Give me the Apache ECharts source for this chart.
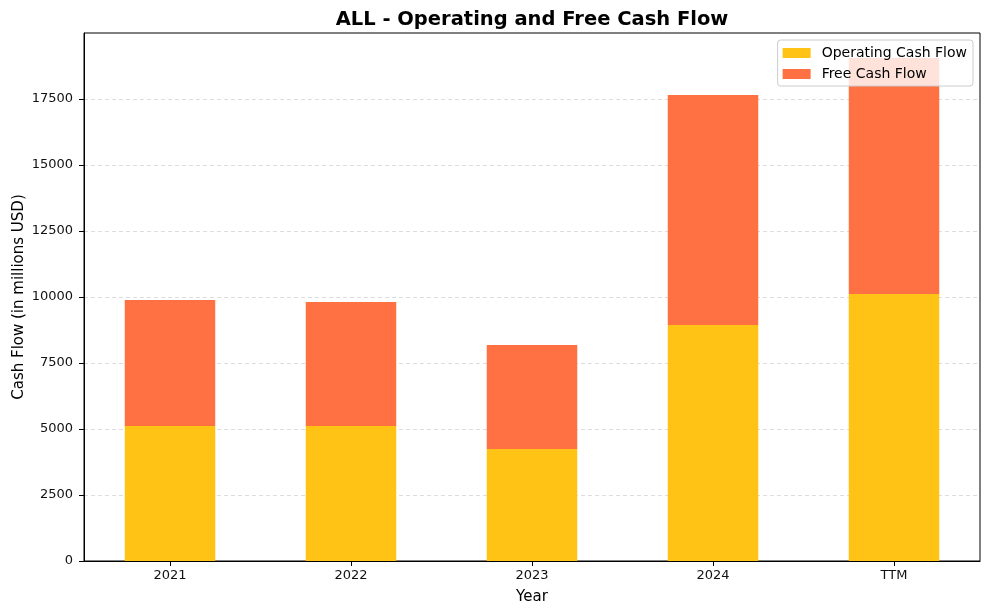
<!DOCTYPE html>
<html>
<head>
<meta charset="utf-8">
<script src="https://cdn.jsdelivr.net/npm/echarts@6/dist/echarts.min.js"></script>
<style>html,body{margin:0;padding:0;background:#fff}#c{width:989px;height:615px}</style>
</head>
<body>
<div id="c"></div>
<script>
const categories = ['2021', '2022', '2023', '2024', 'TTM'];
const operatingCashFlow = [5114, 5114, 4242, 8939, 10114];
const freeCashFlow = [4772, 4697, 3940, 8713, 8939];
const yTicks = [0, 2500, 5000, 7500, 10000, 12500, 15000, 17500];

const font = 'DejaVu Sans';
const xIdx = categories.map((c, i) => i);
const chart = echarts.init(document.getElementById('c'), null, {renderer: 'canvas'});
chart.setOption({
  animation: false,
  backgroundColor: '#fff',
  textStyle: {fontFamily: font},
  title: {
    text: 'ALL - Operating and Free Cash Flow',
    left: 527, top: 5, textAlign: 'center',
    textStyle: {fontFamily: font, fontSize: 19.5, fontWeight: 'bold', color: '#000'}
  },
  legend: {
    orient: 'vertical', right: 16, top: 40,
    icon: 'rect',
    itemWidth: 28, itemHeight: 10, itemGap: 7,
    padding: [6, 6, 5, 5],
    backgroundColor: 'rgba(255,255,255,0.8)',
    borderColor: '#ccc', borderWidth: 1, borderRadius: 3,
    textStyle: {fontFamily: font, fontSize: 14, color: '#000', padding: [0, 0, 0, 6]},
    itemStyle: {borderWidth: 0},
    data: ['Operating Cash Flow', 'Free Cash Flow']
  },
  grid: [
    {left: 84, right: 9, top: 33, bottom: 54, outerBoundsMode: 'none', containLabel: false,
      show: true, borderColor: '#000', borderWidth: 1, backgroundColor: 'transparent'},
    {left: 79.5, right: 4.5, top: 33, bottom: 54, outerBoundsMode: 'none', containLabel: false,
      show: false}
  ],
  xAxis: [
    {
      gridIndex: 0, type: 'value', min: -0.475, max: 4.475,
      name: 'Year', nameLocation: 'middle', nameGap: 29, nameMoveOverlap: false,
      nameTextStyle: {fontFamily: font, fontSize: 15, color: '#000'},
      axisLine: {show: true, onZero: false, lineStyle: {color: '#000', width: 1}},
      axisTick: {show: true, length: 5, lineStyle: {color: '#000'}, customValues: xIdx},
      axisLabel: {fontFamily: font, fontSize: 13, color: '#111', margin: 8,
        customValues: xIdx,
        formatter: v => categories[Math.round(v)] || ''},
      splitLine: {show: false}
    },
    {
      gridIndex: 1, type: 'category', data: categories, boundaryGap: true,
      axisLine: {show: false}, axisTick: {show: false}, axisLabel: {show: false},
      splitLine: {show: false}
    }
  ],
  yAxis: [
    {
      gridIndex: 0, type: 'value', min: 0, max: 20000, interval: 2500,
      name: 'Cash Flow (in millions USD)', nameLocation: 'middle', nameGap: 57, nameMoveOverlap: false,
      nameTextStyle: {fontFamily: font, fontSize: 15, color: '#000'},
      axisLine: {show: true, onZero: false, lineStyle: {color: '#000', width: 1}},
      axisTick: {show: true, length: 5, lineStyle: {color: '#000'}, customValues: yTicks},
      axisLabel: {
        fontFamily: font, fontSize: 13, color: '#111', margin: 11,
        customValues: yTicks,
        formatter: v => yTicks.includes(v) ? String(v) : ''
      },
      splitLine: {show: true, lineStyle: {color: '#ddd', type: [4, 3], width: 1}}
    },
    {
      gridIndex: 1, type: 'value', min: 0, max: 20000,
      axisLine: {show: false}, axisTick: {show: false}, axisLabel: {show: false},
      splitLine: {show: false}
    }
  ],
  series: [
    {
      name: 'Operating Cash Flow', type: 'bar', stack: 'cf', data: operatingCashFlow,
      xAxisIndex: 1, yAxisIndex: 1,
      barWidth: '50%', itemStyle: {color: '#FEC314'}
    },
    {
      name: 'Free Cash Flow', type: 'bar', stack: 'cf', data: freeCashFlow,
      xAxisIndex: 1, yAxisIndex: 1,
      barWidth: '50%', itemStyle: {color: '#FF7043'}
    }
  ]
});
</script>
</body>
</html>
